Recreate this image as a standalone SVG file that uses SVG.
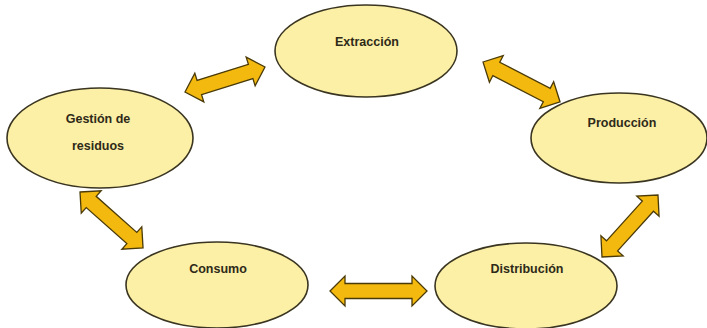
<svg xmlns="http://www.w3.org/2000/svg" width="707" height="328" viewBox="0 0 707 328">
<style>
.node ellipse{fill:#fcefa6;stroke:#3a3520;stroke-width:1.6}
.node text{font-family:"Liberation Sans",Arial,sans-serif;font-size:12.5px;font-weight:bold;fill:#2e2a18;text-anchor:middle}
.arrow{fill:#f4b90f;stroke:#4a3a08;stroke-width:1.3;stroke-linejoin:miter}
</style>
<rect width="707" height="328" fill="#ffffff"/>
<g id="connectors">
<path class="arrow" transform="translate(185,92) rotate(-17.4)" d="M0,0 L15,-15 L15,-7.5 L68.8,-7.5 L68.8,-15 L83.8,0 L68.8,15 L68.8,7.5 L15,7.5 L15,15 Z"/>
<path class="arrow" transform="translate(483,62) rotate(27.4)" d="M0,0 L15,-15 L15,-7.5 L71.8,-7.5 L71.8,-15 L86.8,0 L71.8,15 L71.8,7.5 L15,7.5 L15,15 Z"/>
<path class="arrow" transform="translate(80,192) rotate(41.6)" d="M0,0 L15,-15 L15,-7.5 L69.3,-7.5 L69.3,-15 L84.3,0 L69.3,15 L69.3,7.5 L15,7.5 L15,15 Z"/>
<path class="arrow" transform="translate(330,291)" d="M0,0 L15,-15 L15,-7.5 L82,-7.5 L82,-15 L97,0 L82,15 L82,7.5 L15,7.5 L15,15 Z"/>
<path class="arrow" transform="translate(602,257) rotate(-47.9)" d="M0,0 L15,-15 L15,-7.5 L68.5,-7.5 L68.5,-15 L83.5,0 L68.5,15 L68.5,7.5 L15,7.5 L15,15 Z"/>
</g>
<g id="extraccion" class="node">
<ellipse cx="366" cy="51" rx="91" ry="46"/>
<text x="367" y="46">Extracción</text>
</g>
<g id="gestion" class="node">
<ellipse cx="100" cy="138" rx="93" ry="50"/>
<text x="98" y="123">Gestión de</text>
<text x="98" y="150">residuos</text>
</g>
<g id="produccion" class="node">
<ellipse cx="619" cy="138" rx="88" ry="45"/>
<text x="622" y="127">Producción</text>
</g>
<g id="consumo" class="node">
<ellipse cx="217" cy="285" rx="91" ry="43"/>
<text x="218" y="273">Consumo</text>
</g>
<g id="distribucion" class="node">
<ellipse cx="526" cy="286" rx="91" ry="43"/>
<text x="527" y="273">Distribución</text>
</g>
</svg>
